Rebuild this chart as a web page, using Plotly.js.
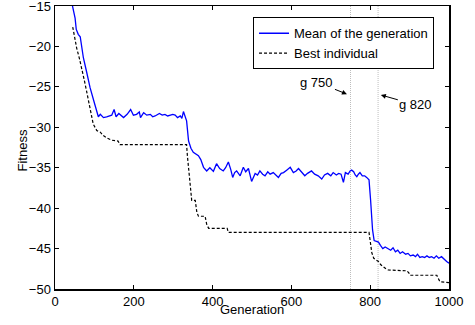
<!DOCTYPE html>
<html>
<head>
<meta charset="utf-8">
<script src="https://cdn.plot.ly/plotly-3.0.1.min.js"></script>
<style>html,body{margin:0;padding:0;background:#fff;}#chart{width:475px;height:325px;}</style>
</head>
<body>
<div id="chart"></div>
<script>
// Mean of the generation
var meanGen = [40,45,51,54,59,64,72,80,89,100,106,110,115,123,131,138,144,150,155,162,168,174,183,192,199,207,214,217,225,233,242,248,254,260,265,272,279,286,292,299,305,311,318,322,326,330,334,339,345,351,358,364,370,377,385,393,402,410,418,427,433,440,446,451,456,461,470,478,484,491,499,508,514,520,527,533,540,546,554,560,567,574,580,588,597,605,612,618,626,634,641,651,659,668,677,684,692,700,706,714,720,726,732,737,744,749,753,758,762,766,770,774,780,786,791,797,801,806,810,815,821,826,832,838,846,852,858,864,870,876,882,890,896,902,909,915,920,926,932,938,944,950,956,962,968,974,981,987,994,1000];
var meanFit = [-14.0,-15.0,-16.5,-17.9,-18.5,-18.8,-21.4,-23.1,-25.1,-27.0,-28.0,-28.7,-28.4,-28.8,-28.7,-28.6,-28.5,-27.8,-28.7,-28.3,-28.6,-28.8,-28.4,-27.8,-28.5,-28.4,-28.1,-28.8,-28.2,-28.5,-28.4,-28.7,-28.6,-28.4,-28.3,-28.5,-28.4,-28.6,-28.5,-28.4,-28.5,-28.8,-28.6,-28.9,-28.05,-28.6,-29.2,-31.7,-32.6,-33.1,-33.3,-33.5,-34.0,-34.95,-35.4,-35.0,-35.45,-34.5,-35.1,-35.4,-35.0,-34.3,-35.2,-36.2,-35.6,-35.4,-36.0,-34.95,-35.5,-35.1,-36.7,-35.7,-35.9,-35.4,-35.8,-36.0,-35.5,-35.8,-35.6,-35.9,-36.2,-35.7,-35.6,-35.3,-34.95,-35.6,-35.4,-35.1,-35.6,-36.0,-35.7,-35.4,-35.8,-36.0,-36.4,-35.9,-35.7,-36.0,-35.6,-35.9,-35.7,-35.8,-36.8,-35.6,-35.8,-35.4,-35.3,-35.5,-35.9,-36.1,-35.8,-35.6,-36.0,-36.0,-36.2,-36.5,-39.0,-42.7,-44.0,-44.1,-44.2,-44.6,-45.0,-44.8,-45.0,-45.2,-44.9,-45.4,-45.2,-45.6,-45.4,-45.7,-45.6,-45.9,-45.8,-46.0,-45.7,-46.1,-46.0,-46.1,-45.9,-46.1,-46.0,-46.2,-45.9,-46.2,-46.0,-46.3,-46.6,-46.8];

// Best individual
var bestGen = [45,50,55,62,68,74,80,85,89,93,97,106,115,122,131,144,160,165,334,336,339,343,347,356,360,364,381,385,390,437,440,797,800,804,809,815,821,827,833,840,846,893,898,901,969,973,977,1000];
var bestFit = [-17.6,-19.0,-20.2,-21.5,-22.65,-24.1,-25.5,-26.8,-28.0,-28.9,-29.6,-30.4,-30.6,-31.0,-31.3,-31.6,-31.7,-32.15,-32.15,-33.5,-35.0,-37.4,-39.05,-39.05,-40.5,-41.0,-41.0,-42.0,-42.5,-42.5,-43.0,-43.0,-44.4,-45.5,-46.2,-46.4,-46.6,-47.0,-47.25,-47.5,-47.65,-47.75,-48.0,-48.3,-48.3,-48.8,-49.1,-49.2];

var seriesNames = ["Mean of the generation", "Best individual"];
var markGens = [750, 820];
var markLabels = ["g 750", "g 820"];
var arrowGens = [741, 827];
var arrowFit = [-25.9, -26.0];

var xTicks = [0, 200, 400, 600, 800, 1000];
var yTicks = [-50, -45, -40, -35, -30, -25, -20, -15];
var xTitle = "Generation";
var yTitle = "Fitness";

var FONT = "Liberation Sans, Arial, Helvetica, sans-serif";

var traces = [
  {x: meanGen, y: meanFit, name: seriesNames[0], mode: "lines", type: "scatter",
   line: {color: "#0000ff", width: 1.3}},
  {x: bestGen, y: bestFit, name: seriesNames[1], mode: "lines", type: "scatter",
   line: {color: "#000000", width: 1.2, dash: "3px,2px"}}
];

var shapes = markGens.map(function (g) {
  return {type: "line", xref: "x", yref: "paper", x0: g, x1: g, y0: 0, y1: 1,
          line: {color: "#bdbdbd", width: 1, dash: "1px,1px"}, layer: "below"};
});

var offsets = [[-30, -12], [35, 10]];
var annotations = markLabels.map(function (t, i) {
  return {x: arrowGens[i], y: arrowFit[i], xref: "x", yref: "y", text: t,
          showarrow: true, arrowhead: 2, arrowsize: 1, arrowwidth: 1, arrowcolor: "#000",
          ax: offsets[i][0], ay: offsets[i][1], font: {size: 13, color: "#000", family: FONT}};
});
annotations.push({xref: "paper", yref: "paper", x: 0.5, y: 0, yshift: -20,
  xanchor: "center", yanchor: "middle", showarrow: false, text: xTitle,
  font: {size: 13, color: "#000", family: FONT}});
annotations.push({xref: "paper", yref: "paper", x: 0, y: 0.5, xshift: -33, yshift: -3,
  xanchor: "center", yanchor: "middle", showarrow: false, text: yTitle, textangle: -90,
  font: {size: 13, color: "#000", family: FONT}});

var axisCommon = {
  showline: true, linecolor: "#000", linewidth: 1.5, mirror: "ticks",
  ticks: "inside", ticklen: 4, tickwidth: 1, tickcolor: "#000",
  showgrid: false, zeroline: false, automargin: false,
  ticklabeloverflow: "allow",
  tickfont: {size: 13, color: "#000", family: FONT}
};

var layout = {
  width: 475, height: 325,
  margin: {l: 55, r: 26, t: 6, b: 36, pad: 0},
  paper_bgcolor: "#fff", plot_bgcolor: "#fff",
  font: {family: FONT, size: 13, color: "#000"},
  showlegend: true,
  legend: {x: 0.962, y: 0.96, xanchor: "right", yanchor: "top",
           bgcolor: "#fff", bordercolor: "#000", borderwidth: 1,
           font: {size: 13, color: "#000", family: FONT},
           itemwidth: 30, tracegroupgap: 0},
  xaxis: Object.assign({}, axisCommon, {
    range: [0, 1000], tickvals: xTicks, ticktext: xTicks.map(String)
  }),
  yaxis: Object.assign({}, axisCommon, {
    range: [-50, -15], tickvals: yTicks
  }),
  shapes: shapes,
  annotations: annotations,
  hovermode: false
};

Plotly.newPlot("chart", traces, layout, {displayModeBar: false, staticPlot: true});
</script>
</body>
</html>
